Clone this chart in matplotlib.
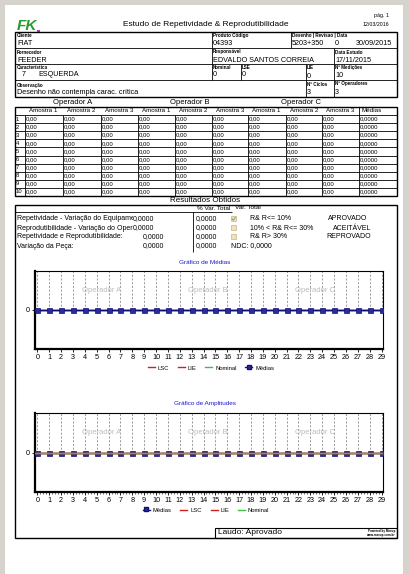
import matplotlib
matplotlib.use('Agg')
import matplotlib.pyplot as plt
from matplotlib.patches import Rectangle
from matplotlib.lines import Line2D
from matplotlib.ticker import MultipleLocator
from matplotlib.transforms import Bbox, TransformedBbox

plt.rcParams['font.family'] = ['Liberation Sans', 'DejaVu Sans']

# ---------------- data ----------------
titulo = 'Estudo de Repetividade & Reprodutibilidade'
pagina = 'pág. 1'
data_emissao = '12/03/2016'
cliente = 'FIAT'
produto_codigo = '04393'
desenho = '5203+350'
revisao = '0'
data_desenho = '30/09/2015'
fornecedor = 'FEEDER'
responsavel = 'EDVALDO SANTOS CORREIA'
data_estudo = '17/11/2015'
caracteristica_num = '7'
caracteristica = 'ESQUERDA'
nominal = '0'
lse = '0'
lie = '0'
n_medicoes = '10'
observacao = 'Desenho não contempla carac. crítica'
n_ciclos = '3'
n_operadores = '3'

operadores = ['Operador A', 'Operador B', 'Operador C']
amostras = ['Amostra 1', 'Amostra 2', 'Amostra 3',
            'Amostra 1', 'Amostra 2', 'Amostra 3',
            'Amostra 1', 'Amostra 2', 'Amostra 3']
pecas = ['1', '2', '3', '4', '5', '6', '7', '8', '9', '10']
medicoes = [
    [0.00, 0.00, 0.00, 0.00, 0.00, 0.00, 0.00, 0.00, 0.00],
    [0.00, 0.00, 0.00, 0.00, 0.00, 0.00, 0.00, 0.00, 0.00],
    [0.00, 0.00, 0.00, 0.00, 0.00, 0.00, 0.00, 0.00, 0.00],
    [0.00, 0.00, 0.00, 0.00, 0.00, 0.00, 0.00, 0.00, 0.00],
    [0.00, 0.00, 0.00, 0.00, 0.00, 0.00, 0.00, 0.00, 0.00],
    [0.00, 0.00, 0.00, 0.00, 0.00, 0.00, 0.00, 0.00, 0.00],
    [0.00, 0.00, 0.00, 0.00, 0.00, 0.00, 0.00, 0.00, 0.00],
    [0.00, 0.00, 0.00, 0.00, 0.00, 0.00, 0.00, 0.00, 0.00],
    [0.00, 0.00, 0.00, 0.00, 0.00, 0.00, 0.00, 0.00, 0.00],
    [0.00, 0.00, 0.00, 0.00, 0.00, 0.00, 0.00, 0.00, 0.00],
]
medias_pecas = [0.0, 0.0, 0.0, 0.0, 0.0, 0.0, 0.0, 0.0, 0.0, 0.0]

resultados_rotulos = ['Repetividade - Variação do Equipamento',
                      'Reprodutibilidade - Variação do Operador',
                      'Repetividade e Reprodutibilidade:',
                      'Variação da Peça:']
resultados_valores = [0.0, 0.0, 0.0, 0.0]
resultados_pct = [0.0, 0.0, 0.0, 0.0]
criterios = ['R& R<= 10%', '10% < R& R<= 30%', 'R& R> 30%']
criterios_status = ['APROVADO', 'ACEITÁVEL', 'REPROVADO']
criterio_marcado = [True, False, False]
ndc = 0.0
laudo = 'Aprovado'

pontos = [0, 1, 2, 3, 4, 5, 6, 7, 8, 9, 10, 11, 12, 13, 14, 15, 16, 17, 18, 19,
          20, 21, 22, 23, 24, 25, 26, 27, 28, 29]
medias_grafico = [0, 0, 0, 0, 0, 0, 0, 0, 0, 0, 0, 0, 0, 0, 0,
                  0, 0, 0, 0, 0, 0, 0, 0, 0, 0, 0, 0, 0, 0, 0]
amplitudes_grafico = [0, 0, 0, 0, 0, 0, 0, 0, 0, 0, 0, 0, 0, 0, 0,
                      0, 0, 0, 0, 0, 0, 0, 0, 0, 0, 0, 0, 0, 0, 0]
lsc_medias, lie_medias, nominal_medias = 0, 0, 0
lsc_amp, lie_amp, nominal_amp = 0, 0, 0


def br(v, d):
    return f'{v:.{d}f}'.replace('.', ',')


# ---------------- figure ----------------
W, H = 409, 574
fig = plt.figure(figsize=(W / 100, H / 100), dpi=100)
fig.patch.set_facecolor('#d6d3cd')
bg = fig.add_axes([0, 0, 1, 1])
bg.set_xlim(0, W)
bg.set_ylim(H, 0)
bg.axis('off')
bg.add_patch(Rectangle((5, 5), 398, 569, facecolor='white', edgecolor='none'))

LW = 0.6


def T(x, y, s, size=5.0, ha='left', va='center', **kw):
    return bg.text(x, y, s, fontsize=size, ha=ha, va=va, **kw)


def box(x0, y0, x1, y1, lw=LW):
    bg.add_patch(Rectangle((x0, y0), x1 - x0, y1 - y0, fill=False,
                           edgecolor='black', linewidth=lw))


def hl(y, x0, x1, lw=LW):
    bg.plot([x0, x1], [y, y], color='black', lw=lw, solid_capstyle='butt')


def vl(x, y0, y1, lw=LW):
    bg.plot([x, x], [y0, y1], color='black', lw=lw, solid_capstyle='butt')


# logo and title
T(17, 26, 'FK', 11, color='#2a9a2a', fontweight='bold', fontstyle='italic')
bg.add_patch(Rectangle((37, 29.5), 2.5, 2.5, facecolor='#c030c0', edgecolor='none'))
T(206, 25, titulo, 6.0, ha='center')
T(389, 15, pagina, 3.8, ha='right')
T(389, 24, data_emissao, 3.8, ha='right')

# header table
LBL = 3.3
VAL = 5.2
box(15, 32, 397, 97, lw=1.0)
hl(48, 15, 397)
hl(64, 15, 397)
hl(80, 15, 397)
# row 1
vl(212, 32, 48); vl(291, 32, 48)
T(17, 35.5, 'Cliente', LBL, fontweight='bold')
T(17, 43.5, cliente, VAL)
T(213, 35.5, 'Produto Código', LBL, fontweight='bold')
T(213, 43.5, produto_codigo, VAL)
T(292, 35.5, 'Desenho | Revisao | Data', LBL, fontweight='bold')
T(292, 43.5, desenho, VAL)
T(335, 43.5, revisao, VAL)
T(356, 43.5, data_desenho, VAL)
# row 2
vl(212, 48, 64); vl(334, 48, 64)
T(17, 52, 'Fornecedor', LBL, fontweight='bold')
T(17, 60.5, fornecedor, VAL)
T(213, 52, 'Responsável', LBL, fontweight='bold')
T(213, 60.5, responsavel, VAL)
T(335, 52, 'Data Estudo', LBL, fontweight='bold')
T(335, 60.5, data_estudo, VAL)
# row 3
for xv in (212, 241, 306, 334):
    vl(xv, 64, 80)
T(17, 67.5, 'Característica', LBL, fontweight='bold')
T(22, 75, caracteristica_num, VAL)
T(38, 75, caracteristica, VAL)
T(213, 67.5, 'Nominal', LBL, fontweight='bold')
T(213, 75, nominal, VAL)
T(242, 67.5, 'LSE', LBL, fontweight='bold')
T(242, 75, lse, VAL)
T(307, 67.5, 'LIE', LBL, fontweight='bold')
T(307, 76.5, lie, VAL)
T(335, 67.5, 'Nº Medições', LBL, fontweight='bold')
T(335, 75.5, n_medicoes, VAL)
# row 4
vl(306, 80, 97); vl(334, 80, 97)
T(17, 85, 'Observação', LBL, fontweight='bold')
T(17, 92.5, observacao, VAL)
T(307, 84, 'Nº Ciclos', LBL, fontweight='bold')
T(307, 92.5, n_ciclos, VAL)
T(335, 84, 'Nº Operadores', LBL, fontweight='bold')
T(335, 92.5, n_operadores, VAL)

# measurement table
cols = [15, 25, 63, 101, 138, 175, 212, 248, 286, 322, 359, 397]
op_x = [73, 190, 301]
for x, op in zip(op_x, operadores):
    T(x, 103, op, 5.5, ha='center')
t_top, t_hdr, t_bot = 107, 115, 196
box(15, t_top, 397, t_bot, lw=1.0)
hl(t_hdr, 15, 397)
for i, a in enumerate(amostras):
    T(cols[i + 1] + 4, 111, a, 4.5)
vl(359, t_top, t_bot)
T(361, 111, 'Médias', 4.5)
rh = (t_bot - t_hdr) / len(pecas)
for r in range(1, len(pecas)):
    hl(t_hdr + r * rh, 15, 397)
for c in cols[1:-2]:
    vl(c, t_hdr, t_bot)
for r, p in enumerate(pecas):
    yc = t_hdr + (r + 0.5) * rh
    T(16, yc, p, 4.2)
    for c in range(9):
        T(cols[c + 1] + 1, yc, br(medicoes[r][c], 2), 4.3)
    T(360, yc, br(medias_pecas[r], 4), 4.3)

# results
T(205, 201, 'Resultados Obtidos', 5.8, ha='center')
box(15, 205, 397, 538, lw=1.0)
T(230, 208.5, '% Var. Total', 4.6, ha='right')
T(235, 207.5, 'Var. Total', 4.6)
hl(212, 15, 232)
vl(193, 212, 252)
res_y = [219, 228, 237, 246]
val_x = [133, 133, 143, 143]
for i in range(4):
    t = T(17, res_y[i], resultados_rotulos[i], 5.0)
    t.set_clip_box(TransformedBbox(Bbox([[15, 200], [val_x[i] - 0.5, 260]]),
                                   bg.transData))
    t.set_clip_on(True)
    T(val_x[i], res_y[i], br(resultados_valores[i], 4), 5.0)
    T(196, res_y[i], br(resultados_pct[i], 4), 5.0)
for i in range(3):
    y = res_y[i]
    bg.add_patch(Rectangle((231, y - 2.6), 5, 5, facecolor='#efe2b5',
                           edgecolor='#b8a878', linewidth=0.4))
    if criterio_marcado[i]:
        bg.plot([232, 233.4, 235.4], [y - 0.3, y + 1.4, y - 1.8],
                color='#7a9a70', lw=0.6)
    T(250, y, criterios[i], 5.0)
status_x = [328, 333, 326]
for i in range(3):
    T(status_x[i], res_y[i], criterios_status[i], 5.0)
T(231, res_y[3], 'NDC: ' + br(ndc, 4), 5.0)

# laudo
box(215, 528, 397, 538, lw=0.8)
T(218, 533, 'Laudo: ' + laudo, 6.0)
T(395, 531, 'Powered by Meeup', 2.2, ha='right', fontweight='bold')
T(395, 535, 'www.meeup.com.br', 2.2, ha='right', fontweight='bold')

# ---------------- charts ----------------
NAVY = '#101070'
MK = '#2a2aa0'
RED = '#d02020'
GREEN = '#40c040'


def chart(top, bottom, valores, lsc, lie_v, nom, medias_on_top, title_y, title):
    ax = fig.add_axes([35 / W, 1 - bottom / H, (382.7 - 35) / W, (bottom - top) / H])
    ax.set_xlim(-0.2, 29.1)
    ax.set_ylim(-1, 1)
    ax.vlines(pontos, 0, 1, colors='#8c8c8c', linestyles=(0, (2.5, 2)), lw=0.6)
    for x, op in zip([5.4, 14.4, 23.4], operadores):
        ax.text(x, 0.5, op, color='#bcbcbc', fontsize=5.5, ha='center', va='center')
    h = {}
    if not medias_on_top:
        h['Médias'], = ax.plot(pontos, valores, color=NAVY, lw=1.0, marker='s',
                               ms=3.6, mfc=MK, mec=NAVY, mew=0.5, zorder=3)
    h['LSC'] = ax.axhline(lsc, color=RED, lw=1.0, zorder=3)
    h['LIE'] = ax.axhline(lie_v, color=RED, lw=1.0, zorder=3)
    h['Nominal'] = ax.axhline(nom, color=GREEN, lw=1.0, zorder=3)
    if medias_on_top:
        h['Médias'], = ax.plot(pontos, valores, color=NAVY, lw=1.0, marker='s',
                               ms=3.6, mfc=MK, mec=NAVY, mew=0.5, zorder=4)
    ax.set_xticks(pontos)
    ax.set_xticklabels([str(p) for p in pontos])
    ax.set_yticks([0])
    ax.set_yticklabels(['0'])
    ax.tick_params(axis='both', length=2, width=0.6, labelsize=5.2, pad=1.5)
    ax.spines['left'].set_linewidth(1.6)
    ax.spines['bottom'].set_linewidth(1.6)
    ax.spines['top'].set_linewidth(0.8)
    ax.spines['right'].set_linewidth(0.8)
    T(205, title_y, title, 4.6, ha='center', color='#1a1ad0')
    return ax, h


ax1, h1 = chart(271, 349, medias_grafico, lsc_medias, lie_medias, nominal_medias,
                True, 262, 'Gráfico de Médias')
ax2, h2 = chart(413, 492, amplitudes_grafico, lsc_amp, lie_amp, nominal_amp,
                False, 403, 'Gráfico de Amplitudes')
ax2.xaxis.set_minor_locator(MultipleLocator(0.25))
ax2.tick_params(axis='x', which='minor', length=1.2, width=0.4)


def leg_handle(name):
    if name == 'Médias':
        return Line2D([], [], color=NAVY, lw=1.0, marker='s', ms=2.4,
                      mfc=MK, mec=NAVY, markevery=[1])
    return Line2D([], [], color=RED if name in ('LSC', 'LIE') else GREEN, lw=1.0)


order1 = ['LSC', 'LIE', 'Nominal', 'Médias']
order2 = ['Médias', 'LSC', 'LIE', 'Nominal']
for order, yc, cx in ((order1, 368, 211), (order2, 510, 206)):
    fig.legend([leg_handle(n) for n in order], order, loc='center',
               bbox_to_anchor=(cx / W, 1 - yc / H), ncol=4, frameon=False,
               fontsize=4.2, handlelength=1.2, handletextpad=0.5,
               columnspacing=1.5, borderpad=0)

fig.savefig('out.png', dpi=100, facecolor=fig.get_facecolor())
